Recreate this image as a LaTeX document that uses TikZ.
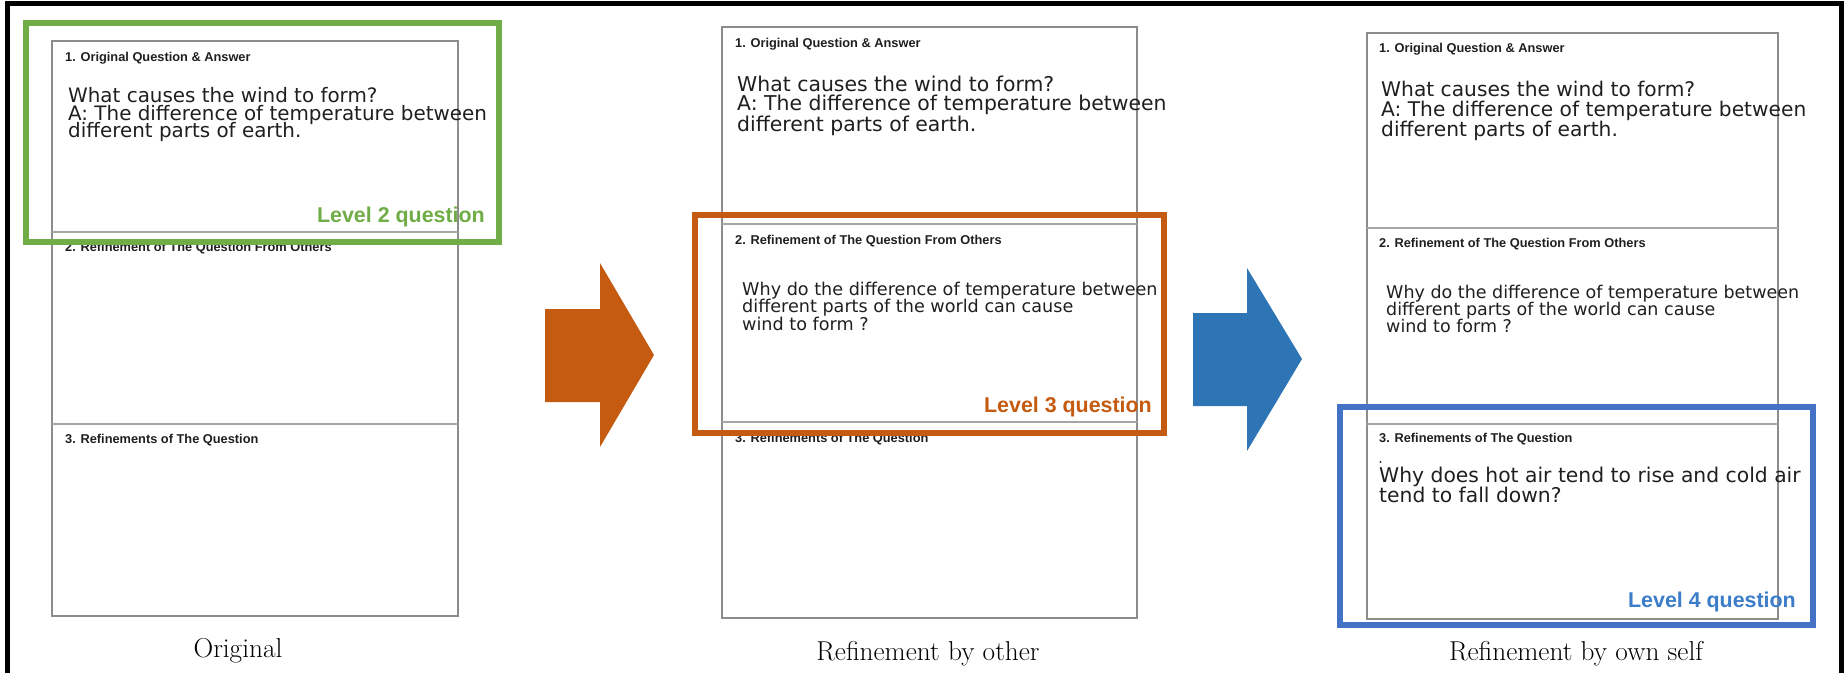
\documentclass[tikz,border=0pt]{standalone}
\usepackage{fontspec}
\newfontfamily\dv{DejaVu Sans}
\newfontfamily\ar{Liberation Sans}
\definecolor{lvgreen}{HTML}{70AD47}
\definecolor{lvorange}{HTML}{C55A11}
\definecolor{lvblue}{HTML}{4472C4}
\definecolor{lvbluetext}{HTML}{3B7DC8}
\definecolor{arrblue}{HTML}{2E75B6}
\tikzset{
  panel/.style={draw=black!45, line width=1.3pt},
  divider/.style={draw=black!35, line width=2pt},
  sectitle/.style={anchor=base west, inner sep=0pt, text=black!88, font=\ar\bfseries\fontsize{12.8}{14}\selectfont},
  body/.style={anchor=base west, inner sep=0pt, text=black!88},
  capt/.style={anchor=base, inner sep=0pt, font=\fontsize{27.3}{30}\selectfont},
  levellabel/.style={anchor=base east, inner sep=0pt, font=\ar\bfseries\fontsize{21.4}{24}\selectfont},
  hilite/.style={line width=6pt},
}
\newcommand{\bodyfont}[1]{\dv\fontsize{#1}{#1}\selectfont}
\begin{document}
\begin{tikzpicture}[x=1pt,y=-1pt]
\useasboundingbox (0,0) rectangle (1845,673);
% outer frame
\draw[line width=5pt] (7.5,673) -- (7.5,3) -- (1841,3) -- (1841,673);

% ---------- panel 1 ----------
\draw[panel] (52,41) rectangle (458,616);
\draw[divider] (52,232) -- (458,232);
\draw[divider] (52,424) -- (458,424);
\node[sectitle] (p1t1) at (65,61) {1. Original Question \& Answer};
\node[sectitle] (p1t2) at (65,251) {2. Refinement of The Question From Others};
\node[sectitle] (p1t3) at (65,443) {3. Refinements of The Question};
\node[body, font=\bodyfont{19.9}] (p1a) at (68,102) {What causes the wind to form?};
\node[body, font=\bodyfont{19.9}] (p1b) at (68,120) {A: The difference of temperature between};
\node[body, font=\bodyfont{19.9}] (p1c) at (68,137.5) {different parts of earth.};
\node[capt] (cap1) at (238,657) {Original};

% ---------- panel 2 ----------
\draw[panel] (722,27) rectangle (1137,618);
\draw[divider] (722,224) -- (1137,224);
\draw[divider] (722,422) -- (1137,422);
\node[sectitle] (p2t1) at (735,47) {1. Original Question \& Answer};
\node[sectitle] (p2t2) at (735,244) {2. Refinement of The Question From Others};
\node[sectitle] (p2t3) at (735,442) {3. Refinements of The Question};
\node[body, font=\bodyfont{20.4}] (p2a) at (737,91) {What causes the wind to form?};
\node[body, font=\bodyfont{20.4}] (p2b) at (737,110.7) {A: The difference of temperature between};
\node[body, font=\bodyfont{20.4}] (p2c) at (737,131) {different parts of earth.};
\node[body, font=\bodyfont{17.6}] (p2d) at (742,295) {Why do the difference of temperature between};
\node[body, font=\bodyfont{17.6}] (p2e) at (742,312.5) {different parts of the world can cause};
\node[body, font=\bodyfont{17.6}] (p2f) at (742,330) {wind to form ?};
\node[capt] (cap2) at (928,660) {Refinement by other};

% ---------- panel 3 ----------
\draw[panel] (1367,33) rectangle (1778,619);
\draw[divider] (1367,228) -- (1778,228);
\draw[divider] (1367,424) -- (1778,424);
\node[sectitle] (p3t1) at (1379,52) {1. Original Question \& Answer};
\node[sectitle] (p3t2) at (1379,247) {2. Refinement of The Question From Others};
\node[sectitle] (p3t3) at (1379,442) {3. Refinements of The Question};
\node[body, font=\bodyfont{20.2}] (p3a) at (1381,96) {What causes the wind to form?};
\node[body, font=\bodyfont{20.2}] (p3b) at (1381,116.5) {A: The difference of temperature between};
\node[body, font=\bodyfont{20.2}] (p3c) at (1381,136) {different parts of earth.};
\node[body, font=\bodyfont{17.5}] (p3d) at (1386,298) {Why do the difference of temperature between};
\node[body, font=\bodyfont{17.5}] (p3e) at (1386,315.5) {different parts of the world can cause};
\node[body, font=\bodyfont{17.5}] (p3f) at (1386,332) {wind to form ?};
\fill[black!80] (1380.5,462) circle (1.1);
\node[body, font=\bodyfont{20.3}] (p3g) at (1379,482) {Why does hot air tend to rise and cold air};
\node[body, font=\bodyfont{20.3}] (p3h) at (1379,502) {tend to fall down?};
\node[capt] (cap3) at (1576,660) {Refinement by own self};

% ---------- arrows ----------
\fill[lvorange] (545,309) -- (600,309) -- (600,263) -- (654,355) -- (600,447) -- (600,402) -- (545,402) -- cycle;
\fill[arrblue] (1193,313) -- (1247,313) -- (1247,268) -- (1302,359) -- (1247,451) -- (1247,406) -- (1193,406) -- cycle;

% ---------- highlight boxes ----------
\draw[hilite, lvgreen] (26,23) rectangle (498.5,242);
\draw[hilite, lvorange] (695,215) rectangle (1164,433);
\draw[hilite, lvblue] (1340,407) rectangle (1813,625);
\node[levellabel, text=lvgreen] (lv2) at (485,222.7) {Level 2 question};
\node[levellabel, text=lvorange] (lv3) at (1152,412) {Level 3 question};
\node[levellabel, text=lvbluetext] (lv4) at (1796,607) {Level 4 question};
\end{tikzpicture}
\end{document}
